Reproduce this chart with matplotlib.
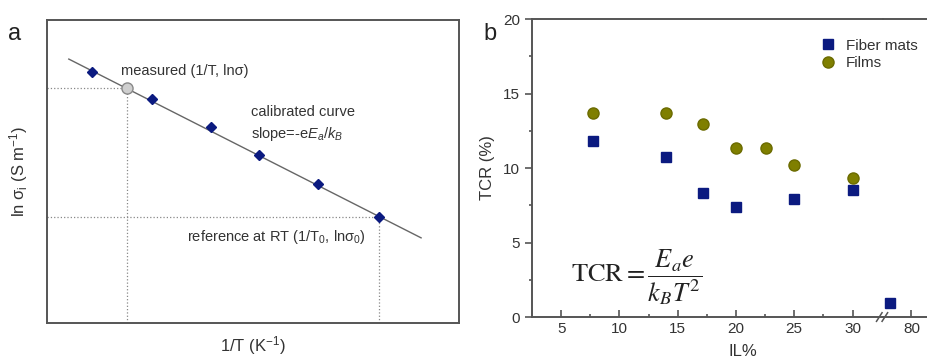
import matplotlib
matplotlib.use("Agg")
import matplotlib.pyplot as plt
from matplotlib.lines import Line2D

plt.rcParams['font.family'] = ['Liberation Sans', 'DejaVu Sans']
plt.rcParams['mathtext.fontset'] = 'custom'
plt.rcParams['mathtext.rm'] = 'Liberation Sans'
plt.rcParams['mathtext.it'] = 'Liberation Sans:italic'

# panel a (schematic, arbitrary units 0-100)
calib_x = [10.9, 25.5, 39.8, 51.5, 65.8, 80.6]
calib_y = [82.8, 73.9, 64.7, 55.4, 45.9, 35.0]
fit_x = [5.3, 90.8]
fit_y = [87.1, 28.1]
meas_x, meas_y = 19.4, 77.6
ref_x, ref_y = 80.6, 35.0

# panel b
il_fiber = [7.7, 14.0, 17.2, 20.0, 25.0, 30.0]
tcr_fiber = [11.8, 10.75, 8.3, 7.35, 7.95, 8.5]
il_fiber_high = [78.0]
tcr_fiber_high = [0.95]
il_film = [7.7, 14.0, 17.2, 20.0, 22.6, 25.0, 30.0]
tcr_film = [13.7, 13.7, 12.95, 11.35, 11.35, 10.2, 9.35]

navy = '#0b1a80'
olive = '#7f7f00'
spine_c = '#555555'

fig = plt.figure(figsize=(9.28, 3.6), dpi=100)

# ---- panel a ----
ax = fig.add_axes([0.0506, 0.1028, 0.444, 0.8417])
ax.set_xlim(0, 100)
ax.set_ylim(0, 100)
ax.set_xticks([])
ax.set_yticks([])
for s in ax.spines.values():
    s.set_color(spine_c)
    s.set_linewidth(1.4)

ax.plot(fit_x, fit_y, color='#666666', lw=1.0, zorder=2)
ax.plot(calib_x, calib_y, 'D', color=navy, ms=5, zorder=3)
ax.plot([0, meas_x], [meas_y, meas_y], ':', color='#888888', lw=0.9)
ax.plot([meas_x, meas_x], [0, meas_y], ':', color='#888888', lw=0.9)
ax.plot([0, ref_x], [ref_y, ref_y], ':', color='#888888', lw=0.9)
ax.plot([ref_x, ref_x], [0, ref_y], ':', color='#888888', lw=0.9)
ax.plot(meas_x, meas_y, 'o', mfc='#cfcfcf', mec='#888888', ms=8, zorder=4)

tcol = '#333333'
ax.text(18.0, 83.2, 'measured (1/T, ln\u03c3)', fontsize=10.5, color=tcol, va='center')
ax.text(49.5, 69.5, 'calibrated curve', fontsize=10.5, color=tcol, va='center')
ax.text(49.5, 62.5, 'slope=-e$\\it{E}_{a}$/$\\it{k}_{B}$', fontsize=10.5, color=tcol, va='center')
ax.text(34.0, 28.5, 'reference at RT (1/T$_0$, ln\u03c3$_0$)', fontsize=10.5, color=tcol, va='center')
ax.set_xlabel('1/T (K$^{-1}$)', fontsize=12, color=tcol, labelpad=8)
ax.set_ylabel('ln \u03c3$_{\\mathrm{i}}$ (S m$^{-1}$)', fontsize=12, color=tcol, labelpad=12)
fig.text(0.009, 0.905, 'a', fontsize=17, color='#222222', va='center')

# ---- panel b (broken x axis) ----
bl = fig.add_axes([0.5733, 0.1194, 0.378, 0.8278])
br = fig.add_axes([0.9515, 0.1194, 0.06, 0.8278], sharey=bl)
br.patch.set_visible(False)
bl.set_xlim(2.5, 32.6)
br.set_xlim(77.4, 82.5)
bl.set_ylim(0, 20)

h1, = bl.plot(il_fiber, tcr_fiber, 's', color=navy, ms=7, label='Fiber mats')
h2, = bl.plot(il_film, tcr_film, 'o', color=olive, mec='#6b6b00', ms=8, label='Films')
br.plot(il_fiber_high, tcr_fiber_high, 's', color=navy, ms=7)

for a in (bl, br):
    for s in a.spines.values():
        s.set_color(spine_c)
        s.set_linewidth(1.4)
bl.spines['right'].set_visible(False)
br.spines['left'].set_visible(False)

bl.set_xticks([5, 10, 15, 20, 25, 30])
bl.set_xticks([7.5, 12.5, 17.5, 22.5, 27.5], minor=True)
bl.set_yticks([0, 5, 10, 15, 20])
bl.set_yticks([2.5, 7.5, 12.5, 17.5], minor=True)
bl.tick_params(axis='x', which='both', direction='in', colors=spine_c, labelcolor='#333333', labelsize=11)
bl.tick_params(axis='x', which='major', length=5, width=1.2)
bl.tick_params(axis='x', which='minor', length=2, width=1.2)
bl.tick_params(axis='y', which='major', direction='out', length=5, width=1.2, colors=spine_c,
               labelcolor='#333333', labelsize=11)
bl.tick_params(axis='y', which='minor', direction='out', length=2.5, width=1.2, colors=spine_c)
bl.tick_params(top=False, right=False)

br.set_xticks([80])
br.tick_params(axis='x', direction='in', length=5, width=1.2, colors=spine_c,
               labelcolor='#333333', labelsize=11)
br.tick_params(axis='y', which='both', left=False, labelleft=False, right=False)

# break marks
for dx in (-0.004, 0.002):
    fig.add_artist(Line2D([0.9515 + dx - 0.003, 0.9515 + dx + 0.003],
                          [0.1194 - 0.012, 0.1194 + 0.012],
                          color=spine_c, lw=1.1))

bl.set_ylabel('TCR (%)', fontsize=12, color='#333333', labelpad=6)
bl.set_xlabel('IL%', fontsize=12, color='#333333')
bl.xaxis.set_label_coords(0.6, -0.09)

bl.text(0.11, 0.134, r'$\mathrm{TCR}=\dfrac{E_a e}{k_B T^2}$', transform=bl.transAxes,
        fontsize=19, math_fontfamily='stix', color='#222222', va='center')

leg = fig.legend(handles=[h1, h2], loc='upper left', bbox_to_anchor=(0.877, 0.91),
                 frameon=False, fontsize=11, handletextpad=0.7, labelspacing=0.25,
                 handlelength=1.0, borderaxespad=0)
for t in leg.get_texts():
    t.set_color('#333333')

fig.text(0.521, 0.905, 'b', fontsize=17, color='#222222', va='center')

fig.savefig('out.png', dpi=100)
